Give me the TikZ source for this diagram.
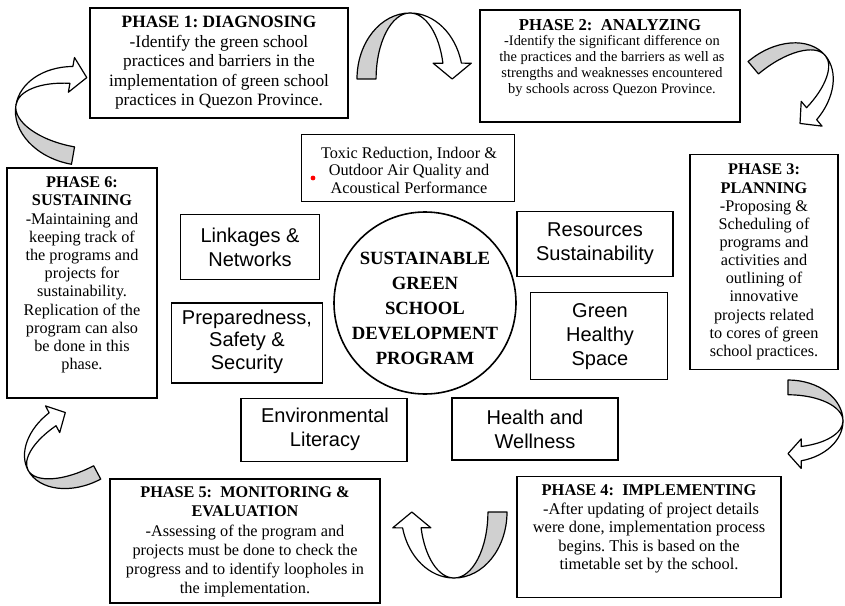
\documentclass[tikz,border=0pt]{standalone}
\usepackage{fontspec}
\setmainfont{Liberation Serif}
\newfontfamily\coresans{Liberation Sans}
\definecolor{ribbongray}{HTML}{D0D0D0}
\frenchspacing

% Twisted ribbon arrow: shaded back on the tail side, white front ending in a head.
% #1,#2 centre, #3 rotation, #4 horizontal half-width, #5 height
\newcommand\ribbonarrow[5]{%
  \begin{scope}[shift={(#1,#2)}, rotate=#3, xscale=#4, yscale=#5]
    \filldraw[ribbon, fill=ribbongray]
      (-1,0) arc[start angle=180, end angle=270, x radius=1, y radius=1]
             arc[start angle=270, end angle=180, x radius=0.64, y radius=1] -- cycle;
    \filldraw[ribbon, fill=white]
      (0,-1) arc[start angle=270, end angle=346.1, x radius=1, y radius=1]
      -- (1.156,-0.24) -- (0.796,0) -- (0.436,-0.24) -- (0.621,-0.24)
      arc[start angle=346.1, end angle=270, x radius=0.64, y radius=1] -- cycle;
  \end{scope}}

\begin{document}
\begin{tikzpicture}[x=0.75pt, y=-0.75pt,
  frame/.style={draw, line width=1.2pt, fill=white, inner sep=0pt},
  phasetext/.style={align=center, inner sep=0pt, font=\fontsize{12.2}{13.8}\selectfont},
  corebox/.style={draw, line width=1.2pt, inner sep=0pt, align=center},
  coretext/.style={align=center, inner sep=0pt, font=\coresans\fontsize{15}{18}\selectfont},
  ribbon/.style={draw, line width=0.9pt, line join=round}]
\useasboundingbox (0,0) rectangle (845,606);

% phase frames
\node[frame, minimum width={258*0.75pt}, minimum height={110*0.75pt}] (p1) at (219,63) {};
\node[frame, minimum width={260*0.75pt}, minimum height={112*0.75pt}] (p2) at (610,66) {};
\node[frame, minimum width={148*0.75pt}, minimum height={215*0.75pt}] (p3) at (764,262) {};
\node[frame, minimum width={264*0.75pt}, minimum height={121*0.75pt}] (p4) at (649,537) {};
\node[frame, minimum width={270*0.75pt}, minimum height={124*0.75pt}] (p5) at (245,541) {};
\node[frame, minimum width={150*0.75pt}, minimum height={230*0.75pt}] (p6) at (82,283) {};

% phase texts
\node[phasetext, font=\fontsize{13}{14.6}\selectfont] (t1) at (219,63)
  {\textbf{PHASE 1: DIAGNOSING}\\-Identify the green school\\practices and barriers in the\\implementation of green school\\practices in Quezon Province.};
\node[inner sep=0pt, font=\fontsize{12.5}{14}\selectfont\bfseries] (t2a) at (610,25) {PHASE 2:\ \ ANALYZING};
\node[phasetext, font=\fontsize{10.8}{12}\selectfont] (t2b) at (612,66)
  {-Identify the significant difference on\\the practices and the barriers as well as\\strengths and weaknesses encountered\\by schools across Quezon Province.};
\node[phasetext, font=\fontsize{12.2}{13.6}\selectfont] (t3) at (764,262)
  {\textbf{PHASE 3:}\\\textbf{PLANNING}\\-Proposing \&\\Scheduling of\\programs and\\activities and\\outlining of\\innovative\\projects related\\to cores of green\\school practices.};
\node[phasetext, font=\fontsize{12.3}{13.9}\selectfont] (t4) at (649,529)
  {\textbf{PHASE 4:\ \ IMPLEMENTING}\\\ -After updating of project details\\were done, implementation process\\begins. This is based on the\\timetable set by the school.};
\node[phasetext, font=\fontsize{12.2}{14.4}\selectfont] (t5) at (245,542)
  {\textbf{PHASE 5:\ \ MONITORING \&}\\\textbf{EVALUATION}\\-Assessing of the program and\\projects must be done to check the\\progress and to identify loopholes in\\the implementation.};
\node[phasetext, font=\fontsize{12.2}{13.65}\selectfont] (t6) at (82,275)
  {\textbf{PHASE 6:}\\\textbf{SUSTAINING}\\-Maintaining and\\keeping track of\\the programs and\\projects for\\sustainability.\\Replication of the\\program can also\\be done in this\\phase.};

% core practice boxes
\node[corebox, minimum width={213*0.75pt}, minimum height={67*0.75pt}] (tox) at (408,168) {};
\node[phasetext, font=\fontsize{12.2}{13.1}\selectfont] (toxt) at (409,170)
  {Toxic Reduction, Indoor \&\\Outdoor Air Quality and\\Acoustical Performance};
\fill[red] (313,178) circle[radius=2.4];

\node[corebox, minimum width={139*0.75pt}, minimum height={65*0.75pt}] (link) at (250,247) {};
\node[coretext] at (link.center) {Linkages \&\\Networks};
\node[corebox, minimum width={156*0.75pt}, minimum height={65*0.75pt}] (res) at (595,244) {};
\node[coretext] at (res.center) {Resources\\Sustainability};
\node[corebox, minimum width={151*0.75pt}, minimum height={80*0.75pt}] (prep) at (247,343) {};
\node[coretext, font=\coresans\fontsize{15}{16.9}\selectfont] at (247,341.5) {Preparedness,\\Safety \&\\Security};
\node[corebox, minimum width={137*0.75pt}, minimum height={87*0.75pt}] (ghs) at (599,336) {};
\node[coretext] at (600,337) {Green\\Healthy\\Space};
\node[corebox, minimum width={166*0.75pt}, minimum height={63*0.75pt}] (env) at (324,430) {};
\node[coretext] at (325,429) {Environmental\\Literacy};
\node[corebox, minimum width={166*0.75pt}, minimum height={62*0.75pt}] (hw) at (535,429) {};
\node[coretext] at (535,429) {Health and\\Wellness};

% central programme
\node[draw, line width=1.2pt, circle, minimum size={182*0.75pt}, inner sep=0pt] (core) at (425,303) {};
\node[align=center, inner sep=0pt, font=\fontsize{14}{18.75}\selectfont\bfseries] at (425,308)
  {SUSTAINABLE\\GREEN\\SCHOOL\\DEVELOPMENT\\PROGRAM};

% cycle arrows between phases
\ribbonarrow{410}{79}{0}{53}{66}
\ribbonarrow{777}{96}{-50}{45}{63}
\ribbonarrow{788}{421}{-90}{41}{55}
\ribbonarrow{454}{512}{180}{53}{66}
\ribbonarrow{81}{442}{118}{42}{60}
\ribbonarrow{80}{116}{80}{49}{65}
\end{tikzpicture}
\end{document}
